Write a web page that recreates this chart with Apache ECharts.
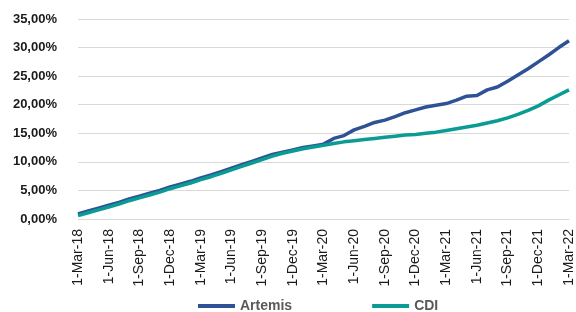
<!DOCTYPE html>
<html>
<head>
<meta charset="utf-8">
<script src="https://cdn.jsdelivr.net/npm/echarts@6/dist/echarts.min.js"></script>
<style>
  html, body { margin: 0; padding: 0; background: #fff; }
  #main { width: 576px; height: 312px; }
</style>
</head>
<body>
<div id="main"></div>
<script>
// months, Mar-18 .. Mar-22 (one point per month)
var months = ['Mar', 'Apr', 'May', 'Jun', 'Jul', 'Aug', 'Sep', 'Oct', 'Nov', 'Dec', 'Jan', 'Feb'];
var categories = [];
for (var i = 0; i <= 48; i++) {
    var yr = 18 + Math.floor((i + 2) / 12);
    categories.push('1-' + months[i % 12] + '-' + yr);
}

// cumulative return, %
var artemis = [
    0.9, 1.4, 1.9, 2.4, 2.9, 3.5, 4.0, 4.5, 5.0, 5.6, 6.1, 6.6,
    7.2, 7.7, 8.3, 8.9, 9.5, 10.1, 10.7, 11.3, 11.7, 12.1, 12.5, 12.8,
    13.1, 14.1, 14.6, 15.6, 16.2, 16.9, 17.3, 17.9, 18.6, 19.1, 19.6, 19.9,
    20.2, 20.8, 21.5, 21.6, 22.6, 23.1, 24.1, 25.2, 26.3, 27.5, 28.7, 30.0,
    31.2
];
var cdi = [
    0.6, 1.1, 1.6, 2.1, 2.6, 3.2, 3.7, 4.2, 4.7, 5.3, 5.8, 6.3,
    6.9, 7.4, 8.0, 8.6, 9.2, 9.8, 10.4, 11.0, 11.5, 11.9, 12.3, 12.6,
    12.9, 13.2, 13.5, 13.7, 13.9, 14.1, 14.3, 14.5, 14.7, 14.8, 15.0, 15.2,
    15.5, 15.8, 16.1, 16.4, 16.8, 17.2, 17.7, 18.3, 19.0, 19.8, 20.8, 21.7,
    22.6
];

var myChart = echarts.init(document.getElementById('main'));

option = {
    animation: false,
    grid: { left: 78, right: 4, top: 19, height: 200 },
    legend: {
        left: 193,
        top: 294,
        itemWidth: 37,
        itemHeight: 4,
        itemGap: 80,
        icon: 'rect',
        textStyle: {
            color: '#595959',
            fontFamily: 'Liberation Sans',
            fontWeight: 'bold',
            fontSize: 14
        },
        data: ['Artemis', 'CDI']
    },
    xAxis: {
        type: 'category',
        data: categories,
        boundaryGap: false,
        axisLine: { lineStyle: { color: '#d9d9d9' } },
        axisTick: { show: false },
        axisLabel: {
            interval: 2,
            rotate: 90,
            margin: 10,
            color: '#1a1a1a',
            fontFamily: 'Liberation Sans',
            fontSize: 14
        }
    },
    yAxis: {
        type: 'value',
        min: 0,
        max: 35,
        interval: 5,
        axisLine: { show: false },
        axisTick: { show: false },
        splitLine: { lineStyle: { color: '#d9d9d9' } },
        axisLabel: {
            margin: 21,
            color: '#1a1a1a',
            fontFamily: 'Liberation Sans',
            fontWeight: 'bold',
            fontSize: 13,
            formatter: function (v) { return v.toFixed(2).replace('.', ',') + '%'; }
        }
    },
    series: [
        {
            name: 'Artemis',
            type: 'line',
            data: artemis,
            showSymbol: false,
            symbol: 'none',
            itemStyle: { color: '#2F5296' },
            lineStyle: { color: '#2F5296', width: 3.5 }
        },
        {
            name: 'CDI',
            type: 'line',
            data: cdi,
            showSymbol: false,
            symbol: 'none',
            itemStyle: { color: '#0A9B94' },
            lineStyle: { color: '#0A9B94', width: 3.5 }
        }
    ]
};

myChart.setOption(option);
</script>
</body>
</html>
